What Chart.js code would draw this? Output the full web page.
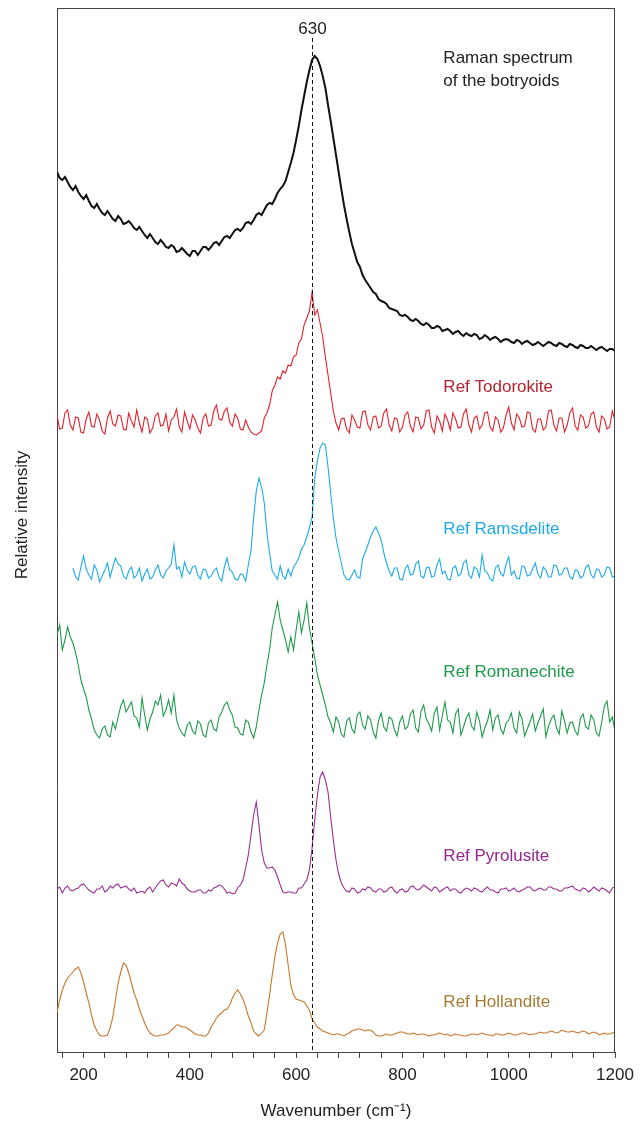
<!DOCTYPE html>
<html>
<head>
<meta charset="utf-8">
<title>Raman spectra</title>
<script src="https://cdn.jsdelivr.net/npm/chart.js@4.4.1/dist/chart.umd.min.js"></script>
<style>
  html, body { margin: 0; padding: 0; background: #ffffff; }
  #wrap { width: 642px; height: 1124px; }
</style>
</head>
<body>
<div id="wrap"><canvas id="raman-chart" width="642" height="1124"></canvas></div>
<script>
// wavenumber grid (cm-1), one row = 100 cm-1
const wavenumbers = [
  150, 155, 160, 165, 170, 175, 180, 185, 190, 195, 200, 205, 210, 215, 220, 225, 230, 235, 240, 245,
  250, 255, 260, 265, 270, 275, 280, 285, 290, 295, 300, 305, 310, 315, 320, 325, 330, 335, 340, 345,
  350, 355, 360, 365, 370, 375, 380, 385, 390, 395, 400, 405, 410, 415, 420, 425, 430, 435, 440, 445,
  450, 455, 460, 465, 470, 475, 480, 485, 490, 495, 500, 505, 510, 515, 520, 525, 530, 535, 540, 545,
  550, 555, 560, 565, 570, 575, 580, 585, 590, 595, 600, 605, 610, 615, 620, 625, 630, 635, 640, 645,
  650, 655, 660, 665, 670, 675, 680, 685, 690, 695, 700, 705, 710, 715, 720, 725, 730, 735, 740, 745,
  750, 755, 760, 765, 770, 775, 780, 785, 790, 795, 800, 805, 810, 815, 820, 825, 830, 835, 840, 845,
  850, 855, 860, 865, 870, 875, 880, 885, 890, 895, 900, 905, 910, 915, 920, 925, 930, 935, 940, 945,
  950, 955, 960, 965, 970, 975, 980, 985, 990, 995, 1000, 1005, 1010, 1015, 1020, 1025, 1030, 1035, 1040, 1045,
  1050, 1055, 1060, 1065, 1070, 1075, 1080, 1085, 1090, 1095, 1100, 1105, 1110, 1115, 1120, 1125, 1130, 1135, 1140, 1145,
  1150, 1155, 1160, 1165, 1170, 1175, 1180, 1185, 1190, 1195, 1200];

// intensities, each relative to its own trace baseline
const botryoids = [
  178, 172, 170, 173, 168, 163, 160, 164, 158, 154, 151, 155, 149, 144, 142, 146, 141, 137, 135, 139,
  135, 131, 129, 134, 131, 126, 127, 129, 126, 122, 120, 123, 119, 115, 112, 116, 112, 108, 106, 110,
  107, 103, 102, 105, 103, 98, 99, 102, 99, 96, 94, 99, 99, 95, 99, 103, 103, 100, 103, 107,
  108, 105, 109, 113, 114, 112, 116, 120, 121, 119, 122, 127, 128, 126, 130, 135, 137, 135, 140, 145,
  147, 146, 151, 157, 161, 164, 169, 178, 187, 197, 210, 224, 240, 254, 268, 280, 290, 294, 291, 284,
  274, 262, 245, 229, 212, 195, 178, 161, 145, 131, 118, 106, 97, 88, 83, 75, 70, 66, 62, 58,
  56, 51, 49, 48, 46, 42, 41, 40, 39, 35, 34, 35, 33, 30, 29, 31, 29, 26, 25, 27,
  25, 22, 22, 24, 23, 19, 20, 21, 19, 16, 18, 19, 16, 14, 17, 15, 14, 16, 15, 11,
  12, 15, 13, 10, 12, 13, 11, 8, 10, 11, 10, 8, 7, 10, 9, 6, 8, 9, 7, 5,
  6, 8, 6, 4, 6, 8, 7, 5, 4, 7, 6, 4, 3, 6, 5, 3, 2, 5, 4, 2,
  2, 4, 2, 0, 2, 3, 1, -1, 1, 1, -1];

const todorokite = [
  8, -6, -5, 10, 13, -2, -7, 6, 5, -9, -10, 4, 11, -3, -4, 9, 3, -8, -11, 5,
  12, -1, -3, 8, 7, -6, -7, 10, 2, -4, 13, 0, -9, 6, 4, -10, -5, 7, 10, -3,
  -2, 9, -8, 3, 6, 14, -4, -9, 11, 2, -6, 8, 3, -5, -10, 5, 9, -3, -2, 12,
  18, 4, 3, 12, 15, 1, -3, 9, 5, -6, -7, 3, -4, -9, -11, -12, -10, -8, 5, 10,
  18, 32, 38, 46, 44, 52, 50, 58, 57, 66, 68, 80, 84, 98, 105, 112, 131, 108, 113, 100,
  86, 66, 48, 30, 12, 0, -7, 4, 5, -6, -10, 8, 3, -4, -5, 11, 12, -2, -7, 6,
  7, -5, -3, 10, 14, -2, -8, 5, 4, -9, -4, 8, 11, -3, -9, 6, 5, -6, -2, 12,
  13, -4, -10, 7, 2, -8, 9, 3, -7, 10, 4, -5, -4, 9, 14, -2, -9, 5, 7, -6,
  -2, 10, 11, -4, -8, 6, 3, -9, -5, 8, 16, 0, -7, 9, 5, -4, -3, 11, 10, -6,
  -9, 4, 4, -7, -4, 12, 13, -2, -8, 5, 5, -9, -2, 10, 15, -3, -7, 8, 6, -5,
  -3, 9, 11, -4, -9, 7, 4, -6, -4, 12, 3];

const ramsdelite = [
  null, null, null, null, null, null, 5, -4, -7, 6, 17, 4, -2, -6, 8, 3, -9, -3, 3, 10,
  -4, 6, 15, 9, 7, -3, -6, 2, 6, -5, -2, 5, -8, -1, 4, -6, -4, 3, 8, -2,
  -5, 2, 5, 9, 28, 4, 6, -4, 11, 3, -1, 6, 7, -2, -6, 4, 3, -5, -3, 2,
  5, -4, -8, 6, 15, 3, 1, -6, -7, -1, -2, -8, 8, 22, 55, 82, 95, 86, 70, 40,
  20, 2, -2, -6, 7, -3, -6, 4, -3, 6, 10, 15, 24, 28, 36, 45, 56, 95, 112, 125,
  130, 128, 106, 80, 55, 35, 22, 10, -2, -6, -7, -2, 3, -4, -5, 14, 21, 28, 36, 42,
  46, 40, 33, 20, 10, 2, -3, 5, 5, -6, -7, 4, 8, -2, -1, 9, 12, -3, -5, 5,
  6, -4, -3, 8, 14, -1, 2, -6, -7, 5, 7, -3, -1, 10, 13, -2, -5, 6, 4, -4,
  18, 2, 0, -6, -8, 5, 8, -1, -3, 9, 16, -2, 2, -5, -6, 7, 6, -3, -2, 4,
  10, -1, -5, 6, 3, -4, -4, 8, 7, -2, -1, 5, 5, -4, -6, 3, 2, -5, -3, 6,
  8, -2, -5, 4, 3, -4, -2, 6, 5, -4, -3];

const romanechite = [
  90, 100, 75, 85, 98, 88, 82, 72, 60, 45, 36, 28, 15, 6, -5, -10, -13, -4, -1, -10,
  -12, 3, -4, 8, 19, 25, 13, 18, 23, 9, 7, -2, 27, 10, -5, 6, 13, 24, 20, 30,
  9, 15, 25, 12, 30, 5, -3, -8, -11, 0, 3, -6, -9, 4, 1, -10, -12, 2, 5, -4,
  -6, 8, 13, 20, 23, 15, 10, -2, -3, -9, -10, 5, 3, -7, -13, -2, 15, 30, 42, 60,
  75, 97, 110, 123, 105, 95, 85, 73, 88, 75, 95, 113, 92, 105, 122, 97, 82, 67, 50, 40,
  30, 20, 8, 2, -7, 8, 3, -9, -12, 4, 7, -4, -8, 10, 13, 0, -4, 9, 5, -7,
  -13, 4, 12, -2, -6, 8, 6, -5, -11, 3, 9, -4, -2, 11, 15, -3, -7, 14, 20, 6,
  1, -6, 12, 18, -5, 9, 23, 5, 3, -8, 11, 16, -10, -2, 7, 12, -1, -5, 13, 4,
  -12, -3, 4, 15, -5, 7, 10, -4, -9, 2, 5, 12, -3, -8, 13, 6, -11, -4, 3, 11,
  -6, 2, 9, 16, -12, -1, 6, 10, -3, -9, 14, 4, -8, 2, 3, -6, -10, 7, 11, -2,
  -4, 10, 5, -8, -11, 3, 19, 24, 3, 8, -7];

const pyrolusite = [
  1, 3, -3, 2, 4, 0, -1, 1, 2, 5, 6, 3, 0, -2, -3, 1, 1, 4, -2, 0,
  4, 2, 5, 6, 2, 3, 4, 1, -1, 2, -3, -2, -1, -3, 1, 3, -2, 2, 6, 9,
  10, 5, 3, 7, 6, 4, 11, 7, 5, 1, -1, -2, -2, 0, 0, -3, -3, 0, -1, 2,
  3, 5, 4, 1, -3, -2, -4, -3, 2, 5, 10, 22, 35, 55, 75, 88, 65, 40, 27, 22,
  22, 23, 20, 13, 5, -2, -3, -2, -2, -3, -3, 2, 2, 6, 10, 20, 42, 70, 95, 113,
  118, 110, 98, 73, 50, 30, 16, 7, 2, -1, -2, 2, 1, -3, -2, 1, 0, 3, 2, -1,
  -2, 1, 1, -2, -1, 2, 3, -1, -3, 0, 1, -2, -1, 3, 4, 1, 0, 2, 5, 3,
  1, -1, 3, 2, -2, 0, 2, 3, -1, 1, 1, -2, -3, 0, 2, 1, -1, 2, 1, -1,
  -2, 1, 3, 0, 0, -2, -3, 1, 1, 2, -1, 0, 2, -1, -2, 0, 1, 3, 3, 0,
  -1, 1, 2, 0, 0, 3, 3, 1, 1, -1, -1, 2, 2, 3, 4, 1, 0, -1, 2, 1,
  -2, 0, 3, 1, -1, 2, 1, -1, -3, 2, 3];

const hollandite = [
  22, 35, 45, 52, 57, 60, 63, 66, 68, 62, 53, 42, 32, 20, 10, 4, 0, -1, -1, 0,
  7, 18, 35, 52, 63, 72, 70, 62, 52, 42, 35, 26, 19, 12, 6, 2, 0, -1, -1, 0,
  0, 1, 2, 5, 7, 10, 10, 8, 8, 7, 5, 3, 1, 0, 0, -1, -1, 2, 8, 12,
  17, 20, 22, 25, 26, 30, 37, 42, 45, 41, 36, 28, 19, 12, 4, 1, -1, 2, 5, 22,
  40, 60, 78, 92, 101, 103, 90, 70, 50, 40, 36, 35, 34, 33, 29, 25, 16, 12, 8, 6,
  4, 3, 2, 1, 0, 1, 1, 0, -1, 1, 2, 4, 5, 6, 6, 5, 4, 5, 5, 3,
  0, -1, -1, 0, 1, 0, 0, 1, 2, 3, 3, 2, 1, 1, 2, 1, 0, 1, 1, 0,
  -1, 0, 0, 1, 2, 1, 0, 1, -1, 0, 1, 0, 0, -1, -1, 0, 1, 1, 0, 1,
  2, 1, 0, 0, -1, 1, 1, 0, 0, 1, 2, 1, 0, 0, 1, 2, 2, 1, 0, 1,
  1, 2, 3, 2, 2, 3, 4, 3, 2, 3, 5, 4, 3, 3, 4, 3, 2, 3, 4, 3,
  1, 2, 3, 2, 0, 1, 2, 1, 1, 2, 3];

// vertical stacking of the traces (same units as the y axis)
const traceNames = ['Raman spectrum of the botryoids', 'Ref Todorokite', 'Ref Ramsdelite', 'Ref Romanechite', 'Ref Pyrolusite', 'Ref Hollandite'];
const traceOffsets = [702, 629, 479, 327, 162, 17];
const traceValues = [botryoids, todorokite, ramsdelite, romanechite, pyrolusite, hollandite];

const lineColors = ['#111111', '#e3212b', '#1eaae7', '#1e9a4a', '#9a2d96', '#c9762a'];
const labelColors = ['#222222', '#b4232e', '#1eaae7', '#1e9a4a', '#93278f', '#a67a32'];
const lineWidths = [2, 1.1, 1.1, 1.1, 1.1, 1.1];

const markerWavenumber = 630;
const majorTickStep = 200;
const xTicks = [160, 200, 240, 280, 320, 360, 400, 440, 480, 520, 560, 600, 640, 680, 720, 760, 800,
  840, 880, 920, 960, 1000, 1040, 1080, 1120, 1160, 1200];

const FONT = '"Liberation Sans", Arial, Helvetica, sans-serif';

// 标签放在数据坐标里 (x = wavenumber, y = axis value)
const annotationText = [
  { lines: ['Raman spectrum', 'of the botryoids'], x: 877, y: 994, color: labelColors[0] },
  { lines: ['Ref Todorokite'], x: 877, y: 665, color: labelColors[1] },
  { lines: ['Ref Ramsdelite'], x: 877, y: 523, color: labelColors[2] },
  { lines: ['Ref Romanechite'], x: 877, y: 380, color: labelColors[3] },
  { lines: ['Ref Pyrolusite'], x: 877, y: 196, color: labelColors[4] },
  { lines: ['Ref Hollandite'], x: 877, y: 50, color: labelColors[5] }
];

const datasets = traceValues.map((vals, i) => ({
  label: traceNames[i],
  data: wavenumbers.map((w, j) => ({ x: w, y: vals[j] === null ? null : vals[j] + traceOffsets[i] })),
  borderColor: lineColors[i],
  borderWidth: lineWidths[i],
  pointRadius: 0,
  tension: 0,
  fill: false
}));

// frame, dashed marker, text labels and y title
const decorPlugin = {
  id: 'decor',
  afterDatasetsDraw(chart) {
    const { ctx, chartArea, scales } = chart;
    const x = scales.x, y = scales.y;
    ctx.save();

    // top and right edges of the box
    ctx.strokeStyle = '#444444';
    ctx.lineWidth = 1;
    ctx.beginPath();
    ctx.moveTo(chartArea.left, chartArea.top + 0.5);
    ctx.lineTo(chartArea.right, chartArea.top + 0.5);
    ctx.moveTo(chartArea.right - 0.5, chartArea.top);
    ctx.lineTo(chartArea.right - 0.5, chartArea.bottom);
    ctx.stroke();

    // dashed line at 630
    const mx = Math.round(x.getPixelForValue(markerWavenumber)) + 0.5;
    ctx.strokeStyle = '#111111';
    ctx.setLineDash([4, 3]);
    ctx.beginPath();
    ctx.moveTo(mx, chartArea.top + 30);
    ctx.lineTo(mx, chartArea.bottom);
    ctx.stroke();
    ctx.setLineDash([]);

    ctx.font = '17px ' + FONT;
    ctx.fillStyle = '#222222';
    ctx.textAlign = 'center';
    ctx.textBaseline = 'middle';
    ctx.fillText(String(markerWavenumber), mx, chartArea.top + 21);

    // trace labels
    ctx.textAlign = 'left';
    annotationText.forEach(a => {
      ctx.fillStyle = a.color;
      a.lines.forEach((t, k) => {
        ctx.fillText(t, x.getPixelForValue(a.x), y.getPixelForValue(a.y) + k * 23);
      });
    });

    // y axis title
    ctx.save();
    ctx.translate(22, 515);
    ctx.rotate(-Math.PI / 2);
    ctx.fillStyle = '#222222';
    ctx.textAlign = 'center';
    ctx.fillText('Relative intensity', 0, 0);
    ctx.restore();

    ctx.restore();
  }
};

const ctx = document.getElementById('raman-chart').getContext('2d');
new Chart(ctx, {
  type: 'line',
  data: { datasets: datasets },
  options: {
    responsive: false,
    animation: false,
    devicePixelRatio: 1,
    layout: { padding: { top: 8, right: 27, left: 0, bottom: 0 } },
    plugins: {
      legend: { display: false },
      tooltip: { enabled: false },
      title: { display: false }
    },
    scales: {
      x: {
        type: 'linear',
        min: 150,
        max: 1200,
        afterBuildTicks: (scale) => { scale.ticks = xTicks.map(v => ({ value: v })); },
        afterFit: (scale) => { scale.height = 72; },
        grid: {
          drawOnChartArea: false,
          drawTicks: true,
          tickLength: 6,
          tickColor: '#444444'
        },
        border: { display: true, color: '#444444', width: 1 },
        ticks: {
          autoSkip: false,
          maxRotation: 0,
          padding: 7,
          color: '#222222',
          font: { family: FONT, size: 17 },
          callback: (v) => (v % majorTickStep === 0 ? String(v) : '')
        },
        title: {
          display: true,
          text: 'Wavenumber (cm\u207B\u00B9)',
          color: '#222222',
          font: { family: FONT, size: 17 },
          padding: { top: 0, bottom: 2 }
        }
      },
      y: {
        min: 0,
        max: 1044,
        afterFit: (scale) => { scale.width = 57; },
        grid: { display: false },
        border: { display: true, color: '#444444', width: 1 },
        ticks: { display: false }
      }
    }
  },
  plugins: [decorPlugin]
});
</script>
</body>
</html>
